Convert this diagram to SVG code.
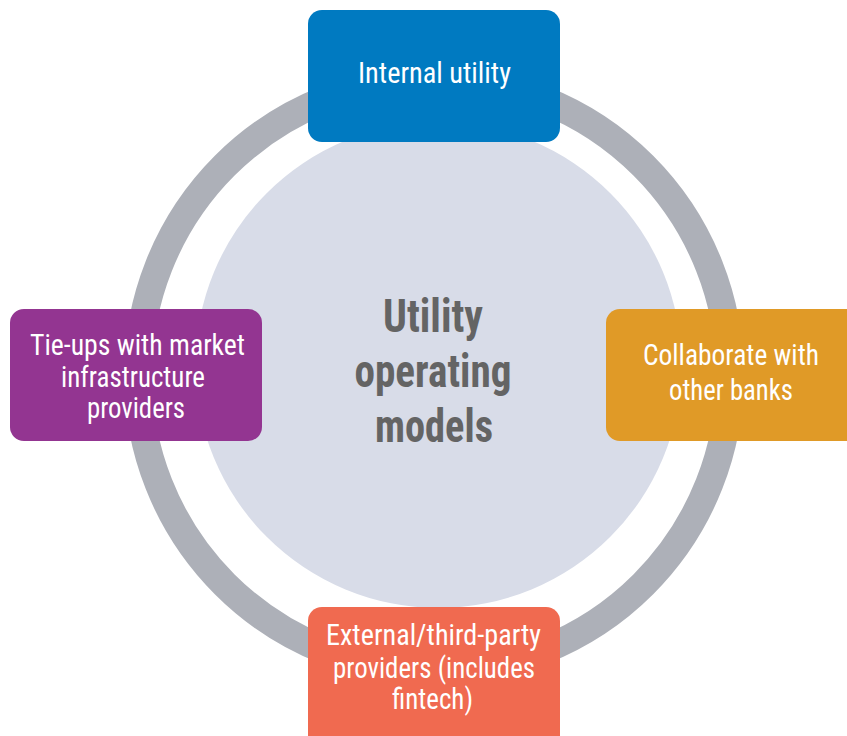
<svg xmlns="http://www.w3.org/2000/svg" width="847" height="736" viewBox="0 0 847 736">
  <style>
    .lbl { font-family: "Liberation Sans Narrow", "Roboto Condensed", "Liberation Sans", Arial, sans-serif; font-size: 30px; fill: #ffffff; text-anchor: middle; }
    .hub { font-family: "Liberation Sans Narrow", "Roboto Condensed", "Liberation Sans", Arial, sans-serif; font-size: 47px; font-weight: bold; fill: #646464; text-anchor: middle; }
  </style>
  <rect width="847" height="736" fill="#ffffff"/>

  <!-- connectors: ring linking the four models -->
  <g id="connectors">
    <circle cx="434" cy="375" r="296" fill="none" stroke="#adb0b8" stroke-width="28"/>
  </g>

  <!-- central hub -->
  <g id="hub">
    <circle cx="438.5" cy="365" r="243" fill="#d8dce8"/>
    <text class="hub" x="433" y="332" textLength="100" lengthAdjust="spacingAndGlyphs">Utility</text>
    <text class="hub" x="433" y="387" textLength="157" lengthAdjust="spacingAndGlyphs">operating</text>
    <text class="hub" x="434" y="442" textLength="118" lengthAdjust="spacingAndGlyphs">models</text>
  </g>

  <g id="internal-utility">
    <rect x="308" y="10" width="252" height="132" rx="14" fill="#007ac1"/>
    <text class="lbl" x="434.5" y="83" textLength="153" lengthAdjust="spacingAndGlyphs">Internal utility</text>
  </g>

  <g id="collaborate-banks">
    <rect x="606" y="309" width="260" height="132" rx="14" fill="#e09a27"/>
    <text class="lbl" x="731" y="365" textLength="176" lengthAdjust="spacingAndGlyphs">Collaborate with</text>
    <text class="lbl" x="731" y="400" textLength="124" lengthAdjust="spacingAndGlyphs">other banks</text>
  </g>

  <g id="tie-ups">
    <rect x="10" y="309" width="252" height="132" rx="14" fill="#933591"/>
    <text class="lbl" x="137.5" y="355" textLength="215" lengthAdjust="spacingAndGlyphs">Tie-ups with market</text>
    <text class="lbl" x="133" y="387" textLength="144" lengthAdjust="spacingAndGlyphs">infrastructure</text>
    <text class="lbl" x="136" y="418" textLength="98" lengthAdjust="spacingAndGlyphs">providers</text>
  </g>

  <g id="external-providers">
    <rect x="308" y="607" width="252" height="150" rx="14" fill="#f06a50"/>
    <text class="lbl" x="433.5" y="645" textLength="215" lengthAdjust="spacingAndGlyphs">External/third-party</text>
    <text class="lbl" x="434" y="678" textLength="202" lengthAdjust="spacingAndGlyphs">providers (includes</text>
    <text class="lbl" x="432.5" y="709" textLength="81" lengthAdjust="spacingAndGlyphs">fintech)</text>
  </g>
</svg>
